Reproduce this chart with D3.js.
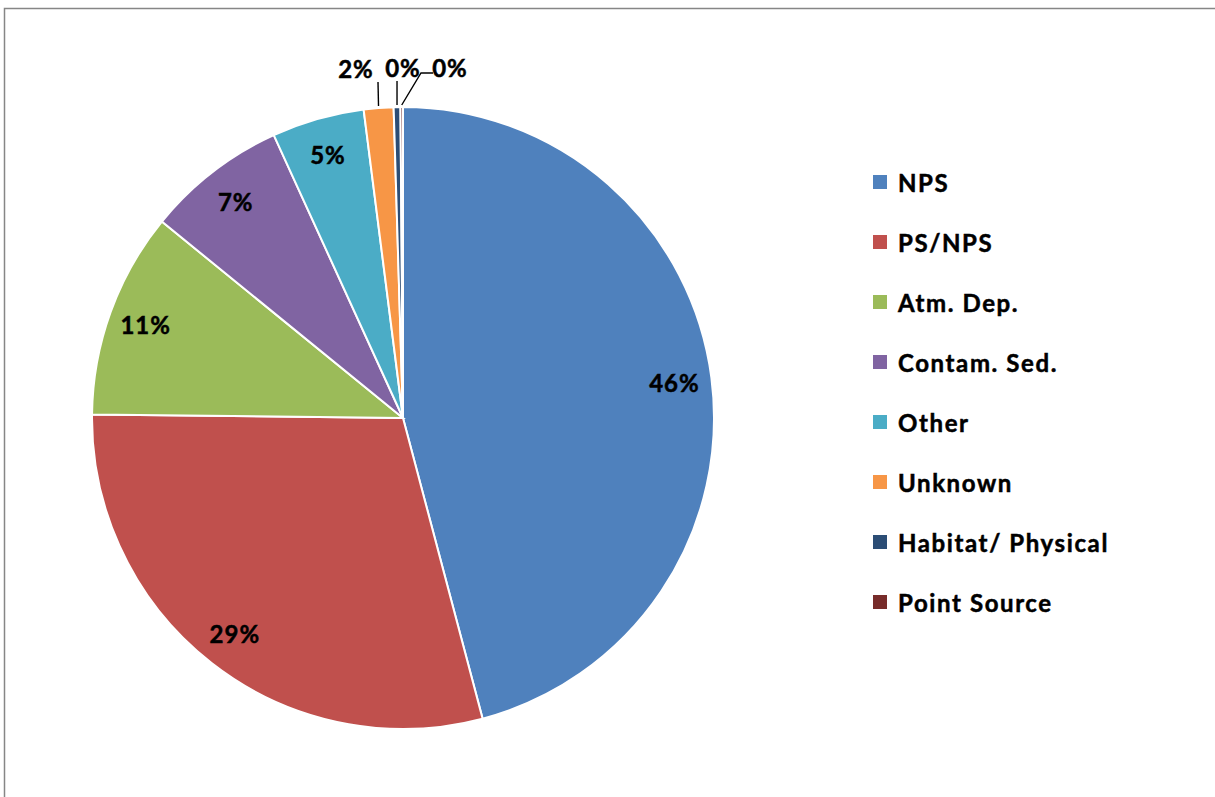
<!DOCTYPE html>
<html><head><meta charset="utf-8">
<script src="https://cdn.jsdelivr.net/npm/d3@7"></script>
<style>html,body{margin:0;padding:0;background:#fff;overflow:hidden}</style>
</head><body>
<svg id="c" width="1215" height="797"></svg>
<script>
const categories = ["NPS","PS/NPS","Atm. Dep.","Contam. Sed.","Other","Unknown","Habitat/ Physical","Point Source"];
const values = [45.88, 29.3, 10.7, 7.3, 4.8, 1.54, 0.35, 0.13];
const labels = ["46%","29%","11%","7%","5%","2%","0%","0%"];
const colors = ["#4F81BD","#C0504D","#9BBB59","#8064A2","#4BACC6","#F79646","#2C4D75","#772C2A"];

const svg = d3.select("#c");
const font = "Lato, 'Open Sans', sans-serif";
svg.append("rect").attr("x",4.5).attr("y",8.5).attr("width",1230).attr("height",820)
  .attr("fill","#fff").attr("stroke","#868686").attr("stroke-width",1.5);

const cx = 403, cy = 418, R = 311;
const g = svg.append("g").attr("transform",`translate(${cx},${cy})`);
const data = categories.map((c,i)=>({cat:c,value:values[i],label:labels[i],color:colors[i]}));
const pie = d3.pie().value(d=>d.value).sort(null);
const arcs = pie(data);
const arc = d3.arc().innerRadius(0).outerRadius(R);
g.selectAll("path.s").data(arcs).join("path").attr("class","s")
  .attr("d",arc).attr("fill",d=>d.data.color).attr("stroke","#fff").attr("stroke-width",2);

function styleText(sel, size, ls){
  sel.attr("font-family",font).attr("font-weight","bold").attr("font-size",size)
    .attr("letter-spacing",ls).attr("fill","#000").attr("stroke","#000").attr("stroke-width",0.5);
}

// inside labels
const inArc = d3.arc().innerRadius(R*0.88).outerRadius(R*0.88);
const big = arcs.filter(a=>a.value>=3);
g.selectAll("text.in").data(big).join("text").attr("class","in")
  .attr("x",d=>inArc.centroid(d)[0]).attr("y",d=>inArc.centroid(d)[1])
  .attr("text-anchor","middle").attr("dominant-baseline","central")
  .call(styleText, 24, 1)
  .text(d=>d.data.label);

// outside labels with leaders
const small = arcs.filter(a=>a.value<3);
const outArc = d3.arc().innerRadius(R+40).outerRadius(R+40);
const edgeArc = d3.arc().innerRadius(R+1).outerRadius(R+1);
const pos = small.map(a=>{const c=outArc.centroid(a);return {a,x:c[0],y:c[1],edge:edgeArc.centroid(a)};});
const k = Math.floor(pos.length/2);
const sp = 47;
pos.forEach((p,i)=>{p.x = (i-k)*sp;});
pos.forEach(p=>{
  const hw=17;
  let pts;
  if (p.edge[0] < p.x - hw) {
    const lx = p.x - hw - 12;
    pts = [[p.edge[0],p.edge[1]-1],[lx,p.y+6],[p.x-hw,p.y+6]];
  } else {
    const px = Math.max(p.x-hw, Math.min(p.x+hw+5, p.edge[0]));
    pts = [[p.edge[0],p.edge[1]-1],[px,p.y+14]];
  }
  g.append("path").attr("d",d3.line()(pts)).attr("fill","none").attr("stroke","#000").attr("stroke-width",1.4);
  g.append("text").attr("x",p.x).attr("y",p.y).attr("text-anchor","middle").attr("dominant-baseline","central")
    .call(styleText, 24, 1).text(p.a.data.label);
});

// legend
const ly = d3.scalePoint().domain(categories).range([182,602]);
const lg = svg.append("g");
lg.selectAll("rect").data(data).join("rect")
  .attr("x",873).attr("y",d=>ly(d.cat)-7).attr("width",14).attr("height",14).attr("fill",d=>d.color);
lg.selectAll("text").data(data).join("text")
  .attr("x",898).attr("y",d=>ly(d.cat)).attr("dominant-baseline","central")
  .call(styleText, 24, 1.6)
  .text(d=>d.cat);
</script>
</body></html>
